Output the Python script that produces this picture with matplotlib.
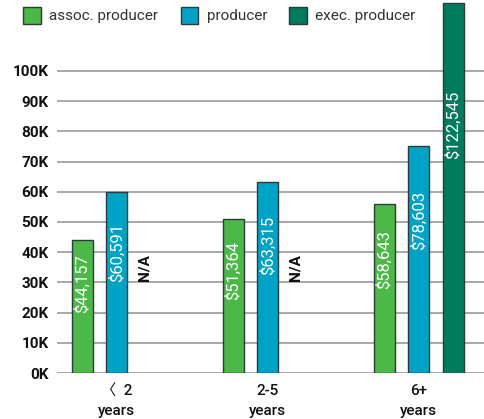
import matplotlib
matplotlib.use("Agg")
import matplotlib.pyplot as plt
from matplotlib.patches import Patch

plt.rcParams['font.family'] = ['Roboto', 'Noto Sans CJK SC', 'DejaVu Sans']

# data (bar heights as drawn, labels as printed)
groups = ["\u3008  2\nyears", "2-5\nyears", "6+\nyears"]
series = ["assoc. producer", "producer", "exec. producer"]
assoc_vals = [44157, 51364, 58643]
prod_vals = [60591, 63315, 78603]
exec_vals = [None, None, 122545]
assoc_bars = [44200, 50900, 56100]
prod_bars = [59800, 63100, 75300]
exec_bars = [None, None, 122400]
colors = ["#4cb848", "#00a3c4", "#007b5e"]
yticks = [0, 10000, 20000, 30000, 40000, 50000, 60000, 70000, 80000, 90000, 100000]

fig = plt.figure(figsize=(4.84, 4.19), dpi=100)
ax = fig.add_axes([57 / 484, 46 / 419, 1 - 57 / 484, 373 / 419])

step = 0.2285
width = 0.139
all_vals = [assoc_vals, prod_vals, exec_vals]
all_bars = [assoc_bars, prod_bars, exec_bars]
for i in range(3):
    off = (i - 1) * step
    for g in range(len(groups)):
        x = g + off
        v = all_vals[i][g]
        h = all_bars[i][g]
        if v is None:
            ax.text(x, 35000, "N/A", rotation=90, ha="right", va="center",
                    fontsize=11, fontweight="bold", color="#111111")
            continue
        ax.bar(x, h, width=width, color=colors[i], edgecolor="#2b3b3b",
               linewidth=1.0, zorder=3)
        ax.text(x, h * 0.67, "${:,}".format(v), rotation=90, ha="center",
                va="center", fontsize=12, color="white", zorder=4)

ax.set_xlim(-0.395, 2.432)
ax.set_ylim(0, 123500)
ax.set_yticks(yticks)
ax.set_yticklabels(["{}K".format(t // 1000) for t in yticks],
                   fontsize=11, fontweight="bold", color="#111111")
ax.set_xticks(range(len(groups)))
ax.set_xticklabels(groups, fontsize=11, fontweight="medium", color="#111111",
                   linespacing=1.5)
ax.tick_params(axis="both", length=0)
ax.tick_params(axis="y", pad=6)
ax.tick_params(axis="x", pad=8)
ax.grid(axis="y", color="#a8a8a8", linewidth=1.4, zorder=0)
for s in ax.spines.values():
    s.set_visible(False)

handles = [Patch(facecolor=c, edgecolor="#2b3b3b", linewidth=1.0) for c in colors]
fig.legend(handles, series, loc="upper left", bbox_to_anchor=(0.02, 1.016),
           ncol=3, frameon=False, fontsize=11, handlelength=1.15,
           handleheight=1.3, handletextpad=0.55, columnspacing=1.45,
           labelcolor="#333333")

fig.savefig("out.png", dpi=100)
